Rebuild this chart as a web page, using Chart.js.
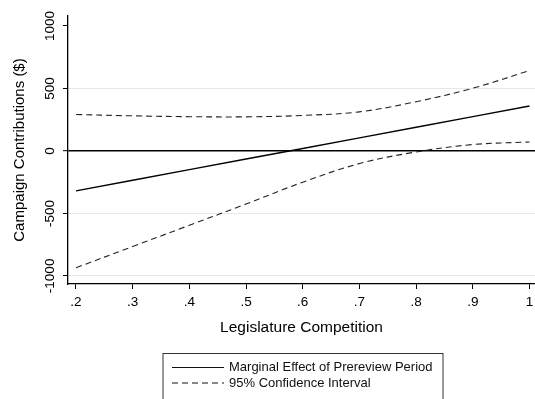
<!DOCTYPE html>
<html>
<head>
<meta charset="utf-8">
<script src="https://cdn.jsdelivr.net/npm/chart.js@4.4.1/dist/chart.umd.min.js"></script>
<style>
  html, body { margin: 0; padding: 0; background: #fff; }
  #wrap { width: 535px; height: 399px; }
</style>
</head>
<body>
<div id="wrap"><canvas id="chart" width="535" height="399"></canvas></div>
<script>
// values
var xValues = [0.2, 0.3, 0.4, 0.5, 0.6, 0.7, 0.8, 0.9, 1.0];
var marginalEffect = [-320, -235, -150, -65, 20, 105, 190, 275, 360];
var upperCI = [292, 281, 274, 273, 284, 313, 394, 502, 643];
var lowerCI = [-935, -765, -595, -425, -250, -101, -8, 51, 72];
var xTicks = [0.2, 0.3, 0.4, 0.5, 0.6, 0.7, 0.8, 0.9, 1];
var yTicks = [-1000, -500, 0, 500, 1000];
var legendLabels = ["Marginal Effect of Prereview Period", "95% Confidence Interval"];

var fontFamily = '"Liberation Sans", Arial, Helvetica, sans-serif';

function pts(ys) {
    return xValues.map(function (x, i) { return { x: x, y: ys[i] }; });
}

// Stata-style boxed legend under the axis title
var boxLegend = {
    id: 'boxLegend',
    afterDraw: function (chart) {
        var ctx = chart.ctx;
        var cx = 303, top = 353.5, w = 280;
        ctx.save();
        ctx.strokeStyle = '#333';
        ctx.lineWidth = 1;
        ctx.strokeRect(cx - w / 2, top, w, 60);
        var rows = [
            { label: legendLabels[0], dash: [], y: 367.5 },
            { label: legendLabels[1], dash: [6, 4], y: 383 }
        ];
        ctx.font = '13px ' + fontFamily;
        ctx.textBaseline = 'middle';
        ctx.textAlign = 'left';
        rows.forEach(function (r) {
            ctx.beginPath();
            ctx.setLineDash(r.dash);
            ctx.strokeStyle = '#111';
            ctx.lineWidth = 1.2;
            ctx.moveTo(172, r.y);
            ctx.lineTo(224, r.y);
            ctx.stroke();
            ctx.setLineDash([]);
            ctx.fillStyle = '#111';
            ctx.fillText(r.label, 229, r.y);
        });
        ctx.restore();
    }
};

var ctx = document.getElementById('chart');
var chart = new Chart(ctx, {
    type: 'line',
    data: {
        datasets: [
            {
                label: legendLabels[0],
                data: pts(marginalEffect),
                borderColor: '#000',
                borderWidth: 1.4,
                pointRadius: 0,
                tension: 0
            },
            {
                label: legendLabels[1],
                data: pts(upperCI),
                borderColor: '#222',
                borderWidth: 1.1,
                borderDash: [6, 4],
                pointRadius: 0,
                tension: 0.35
            },
            {
                label: legendLabels[1],
                data: pts(lowerCI),
                borderColor: '#222',
                borderWidth: 1.1,
                borderDash: [6, 4],
                pointRadius: 0,
                tension: 0.35
            }
        ]
    },
    options: {
        responsive: false,
        animation: false,
        layout: { padding: { top: 16, right: 0, left: 0, bottom: 0 } },
        plugins: {
            legend: { display: false },
            tooltip: { enabled: false }
        },
        scales: {
            x: {
                type: 'linear',
                min: 0.1859,
                max: 1.0097,
                afterBuildTicks: function (scale) {
                    scale.ticks = xTicks.map(function (v) { return { value: v }; });
                },
                afterFit: function (scale) {
                    scale.height = 115;
                    scale.paddingLeft = 0;
                    scale.paddingRight = 0;
                },
                border: { color: '#000', width: 1.3 },
                grid: {
                    drawOnChartArea: false,
                    drawTicks: true,
                    tickLength: 5,
                    tickColor: '#000',
                    tickWidth: 1
                },
                ticks: {
                    autoSkip: false,
                    maxRotation: 0,
                    padding: 5,
                    color: '#000',
                    font: { family: fontFamily, size: 13.5 },
                    callback: function (v) {
                        return v === 1 ? '1' : String(v.toFixed(1)).replace(/^0/, '');
                    }
                },
                title: {
                    display: true,
                    text: 'Legislature Competition',
                    color: '#000',
                    font: { family: fontFamily, size: 15.5 },
                    padding: { top: 0, bottom: 62 }
                }
            },
            y: {
                type: 'linear',
                min: -1065,
                max: 1080,
                afterBuildTicks: function (scale) {
                    scale.ticks = yTicks.map(function (v) { return { value: v }; });
                },
                afterFit: function (scale) {
                    scale.width = 68;
                    scale.paddingTop = 0;
                    scale.paddingBottom = 0;
                },
                border: { color: '#000', width: 1.3 },
                grid: {
                    drawTicks: true,
                    tickLength: 5,
                    tickColor: '#000',
                    tickWidth: 1,
                    color: function (c) {
                        if (!c.tick) return 'rgba(0,0,0,0)';
                        if (c.tick.value === 0) return '#000';
                        if (c.tick.value === 1000) return 'rgba(0,0,0,0)';
                        return '#e6e6e6';
                    },
                    lineWidth: function (c) {
                        return c.tick && c.tick.value === 0 ? 1.4 : 1;
                    }
                },
                ticks: {
                    autoSkip: false,
                    minRotation: 90,
                    maxRotation: 90,
                    crossAlign: 'center',
                    padding: -5,
                    color: '#000',
                    font: { family: fontFamily, size: 13.5 },
                    callback: function (v) { return String(v); }
                },
                title: {
                    display: true,
                    text: 'Campaign Contributions ($)',
                    color: '#000',
                    font: { family: fontFamily, size: 15 },
                    padding: { top: 11, bottom: 0 }
                }
            }
        }
    },
    plugins: [boxLegend]
});
</script>
</body>
</html>
